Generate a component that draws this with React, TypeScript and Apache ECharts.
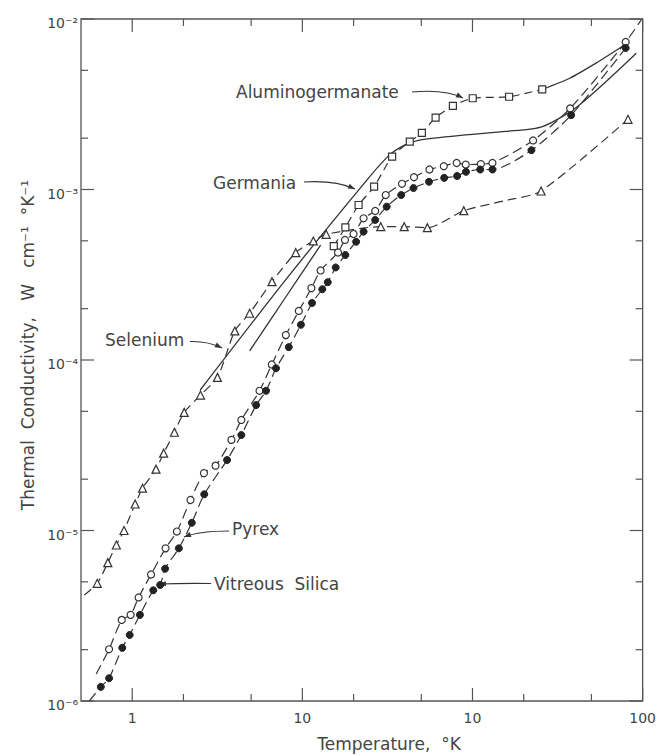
import React, { useEffect, useRef } from 'react';
import * as echarts from 'echarts';

// ---- axis ranges and tick labels ----
const X_MIN = 0.5;
const X_MAX = 1000;
const Y_MIN = 1e-6;
const Y_MAX = 1e-2;
const X_MAJOR = [1, 10, 100, 1000];
const X_MAJOR_LABELS = ['1', '10', '10', '100'];
const X_MINOR = [2, 5, 20, 50, 200, 500];
const Y_MAJOR = [1e-6, 1e-5, 1e-4, 1e-3, 1e-2];
const Y_MAJOR_LABELS = ['10⁻⁶', '10⁻⁵', '10⁻⁴', '10⁻³', '10⁻²'];
const Y_MINOR = [2e-6, 5e-6, 2e-5, 5e-5, 2e-4, 5e-4, 2e-3, 5e-3];

// ---- Selenium (open triangles, dashed) ; M: 1 = plotted point, 0 = curve only ----
const SE_T = [0.523, 0.623, 0.719, 0.807, 0.895, 1.04, 1.15, 1.38, 1.53, 1.77, 2.02, 2.52, 3.17, 4.01, 4.90, 6.63, 9.15, 11.6, 13.8, 28.9, 39.7, 54.3, 88.9, 155, 253, 820];
const SE_K = [4.19e-6, 4.90e-6, 6.48e-6, 8.22e-6, 1.00e-5, 1.43e-5, 1.77e-5, 2.29e-5, 2.84e-5, 3.77e-5, 4.93e-5, 6.23e-5, 7.91e-5, 1.48e-4, 1.88e-4, 2.88e-4, 4.26e-4, 4.99e-4, 5.46e-4, 6.05e-4, 6.05e-4, 5.97e-4, 7.51e-4, 8.60e-4, 9.80e-4, 2.58e-3];
const SE_M = [0, 1, 1, 1, 1, 1, 1, 1, 1, 1, 1, 1, 1, 1, 1, 1, 1, 1, 1, 1, 1, 1, 1, 0, 1, 1];

// ---- Germania (solid curve) ----
const GE_T = [2.51, 8.08, 24.0, 32.2, 39.9, 48.8, 91.6, 157, 258, 418, 918];
const GE_K = [6.67e-5, 3.00e-4, 1.14e-3, 1.58e-3, 1.82e-3, 1.95e-3, 2.09e-3, 2.19e-3, 2.34e-3, 3.09e-3, 6.29e-3];

// ---- Aluminogermanate (open squares, dashed) + solid curve parts ----
const AG_T = [15.3, 17.9, 21.4, 26.4, 33.7, 42.8, 50.4, 60.7, 76.7, 100.3, 164, 257];
const AG_K = [4.66e-4, 6.00e-4, 8.11e-4, 1.04e-3, 1.56e-3, 1.91e-3, 2.15e-3, 2.64e-3, 3.09e-3, 3.43e-3, 3.50e-3, 3.87e-3];
const AG_TAIL_T = [257, 375, 546, 774];
const AG_TAIL_K = [3.87e-3, 4.51e-3, 5.60e-3, 6.99e-3];
const AG_LEAD_T = [4.90, 7.92, 12.8];
const AG_LEAD_K = [1.13e-4, 2.31e-4, 4.72e-4];

// ---- Pyrex (open circles, dashed) ----
const PY_T = [0.614, 0.731, 0.868, 0.979, 1.09, 1.29, 1.57, 1.83, 2.20, 2.64, 3.09, 3.83, 4.38, 5.60, 6.61, 8.00, 9.53, 11.3, 12.8, 16.2, 17.8, 20.0, 22.9, 26.8, 30.9, 38.5, 45.3, 55.8, 67.8, 80.7, 91.3, 112, 131, 227, 375, 795, 985];
const PY_K = [1.44e-6, 2.01e-6, 2.99e-6, 3.20e-6, 4.05e-6, 5.52e-6, 7.86e-6, 9.86e-6, 1.51e-5, 2.17e-5, 2.40e-5, 3.40e-5, 4.45e-5, 6.60e-5, 9.41e-5, 1.40e-4, 1.94e-4, 2.64e-4, 3.35e-4, 4.27e-4, 5.06e-4, 5.48e-4, 6.78e-4, 7.48e-4, 9.28e-4, 1.08e-3, 1.18e-3, 1.31e-3, 1.37e-3, 1.43e-3, 1.40e-3, 1.41e-3, 1.43e-3, 1.94e-3, 2.99e-3, 7.33e-3, 9.93e-3];
const PY_M = [0, 1, 1, 1, 1, 1, 1, 1, 1, 1, 1, 1, 1, 1, 1, 1, 1, 1, 1, 1, 1, 1, 1, 1, 1, 1, 1, 1, 1, 1, 1, 1, 1, 1, 1, 1, 0];

// ---- Vitreous Silica (filled circles, dashed) ----
const SI_T = [0.559, 0.654, 0.731, 0.874, 0.966, 1.11, 1.33, 1.46, 1.56, 1.88, 2.24, 2.65, 3.61, 4.38, 5.35, 6.12, 7.00, 8.32, 9.81, 11.4, 13.1, 14.1, 15.7, 17.9, 20.7, 22.9, 26.8, 31.3, 38.1, 45.0, 55.5, 68.2, 81.2, 91.6, 111, 131, 222, 380, 795];
const SI_K = [1.0e-6, 1.21e-6, 1.36e-6, 2.05e-6, 2.44e-6, 3.20e-6, 4.46e-6, 4.79e-6, 5.97e-6, 7.86e-6, 1.11e-5, 1.63e-5, 2.59e-5, 3.63e-5, 5.44e-5, 6.60e-5, 8.94e-5, 1.19e-4, 1.61e-4, 2.16e-4, 2.60e-4, 2.86e-4, 3.49e-4, 4.13e-4, 4.94e-4, 5.66e-4, 6.63e-4, 7.93e-4, 9.28e-4, 1.02e-3, 1.11e-3, 1.17e-3, 1.20e-3, 1.27e-3, 1.31e-3, 1.31e-3, 1.70e-3, 2.73e-3, 6.76e-3];
const SI_M = [0, 1, 1, 1, 1, 1, 1, 1, 1, 1, 1, 1, 1, 1, 1, 1, 1, 1, 1, 1, 1, 1, 1, 1, 1, 1, 1, 1, 1, 1, 1, 1, 1, 1, 1, 1, 1, 1, 1];

const INK = '#333';
const TEXT = '#444';
const FONT = 'DejaVu Sans';

function pts(T: number[], K: number[], M?: number[]) {
  return T.map((t, i) => (M && !M[i] ? { value: [t, K[i]], symbol: 'none' } : [t, K[i]]));
}

function labelFor(v: number, majors: number[], labels: string[]) {
  const i = majors.findIndex((m) => Math.abs(Math.log10(v) - Math.log10(m)) < 1e-6);
  return i >= 0 ? labels[i] : '';
}

function arrow(from: number[], cp: number[], to: number[]) {
  const a = Math.atan2(to[1] - cp[1], to[0] - cp[0]);
  const len = 7;
  const w = 2.6;
  const bx = to[0] - len * Math.cos(a);
  const by = to[1] - len * Math.sin(a);
  const px = -Math.sin(a) * w;
  const py = Math.cos(a) * w;
  return [
    {
      type: 'bezierCurve',
      shape: { x1: from[0], y1: from[1], cpx1: cp[0], cpy1: cp[1], x2: to[0], y2: to[1] },
      style: { stroke: INK, lineWidth: 1.1, fill: null },
    },
    {
      type: 'polygon',
      shape: { points: [[to[0], to[1]], [bx + px, by + py], [bx - px, by - py]] },
      style: { fill: INK },
    },
  ];
}

function label(text: string, x: number, y: number) {
  return {
    type: 'text',
    x,
    y,
    style: { text, fill: TEXT, fontSize: 17, fontFamily: FONT, align: 'left', verticalAlign: 'middle' },
  };
}

function buildOption() {
  const lineBase = {
    type: 'line',
    smooth: 0.25,
    animation: false,
    emphasis: { disabled: true },
    clip: true,
  };
  const tickData = [
    ...X_MAJOR.map((v) => [v, Y_MIN, 0, 1]),
    ...X_MINOR.map((v) => [v, Y_MIN, 0, 0]),
    ...Y_MAJOR.map((v) => [X_MIN, v, 1, 1]),
    ...Y_MINOR.map((v) => [X_MIN, v, 1, 0]),
  ];

  return {
    animation: false,
    backgroundColor: '#fff',
    textStyle: { fontFamily: FONT },
    grid: { left: 81, top: 19, right: 11, bottom: 55, show: true, borderColor: '#555', borderWidth: 1.3, backgroundColor: 'transparent' },
    xAxis: {
      type: 'log',
      logBase: 10,
      min: X_MIN,
      max: X_MAX,
      axisLine: { show: false },
      axisTick: { show: false },
      splitLine: { show: false },
      axisLabel: {
        customValues: X_MAJOR,
        formatter: (v: number) => labelFor(v, X_MAJOR, X_MAJOR_LABELS),
        fontSize: 14,
        color: TEXT,
        margin: 10,
        fontFamily: FONT,
      },
    },
    yAxis: {
      type: 'log',
      logBase: 10,
      min: Y_MIN,
      max: Y_MAX,
      axisLine: { show: false },
      axisTick: { show: false },
      splitLine: { show: false },
      axisLabel: {
        customValues: Y_MAJOR,
        formatter: (v: number) => labelFor(v, Y_MAJOR, Y_MAJOR_LABELS),
        fontSize: 14,
        color: TEXT,
        margin: 3,
        verticalAlign: 'top',
        lineHeight: 8,
        fontFamily: FONT,
      },
    },
    series: [
      {
        ...lineBase,
        name: 'Selenium',
        data: pts(SE_T, SE_K, SE_M),
        symbol: 'triangle',
        symbolSize: 8,
        itemStyle: { color: '#fff', borderColor: INK, borderWidth: 1.2 },
        lineStyle: { color: INK, width: 1.2, type: [9, 5] },
        z: 3,
      },
      {
        ...lineBase,
        name: 'Germania',
        data: pts(GE_T, GE_K),
        showSymbol: false,
        symbol: 'none',
        lineStyle: { color: INK, width: 1.3 },
        z: 2,
      },
      {
        ...lineBase,
        name: 'Aluminogermanate',
        data: pts(AG_T, AG_K),
        symbol: 'rect',
        symbolSize: 7,
        itemStyle: { color: '#fff', borderColor: INK, borderWidth: 1.2 },
        lineStyle: { color: INK, width: 1.2, type: [8, 5] },
        z: 3,
      },
      {
        ...lineBase,
        name: 'Aluminogermanate curve',
        data: pts(AG_TAIL_T, AG_TAIL_K),
        symbol: 'none',
        lineStyle: { color: INK, width: 1.3 },
        z: 2,
      },
      {
        ...lineBase,
        name: 'Aluminogermanate low-T curve',
        data: pts(AG_LEAD_T, AG_LEAD_K),
        symbol: 'none',
        lineStyle: { color: INK, width: 1.3 },
        z: 2,
      },
      {
        ...lineBase,
        name: 'Pyrex',
        data: pts(PY_T, PY_K, PY_M),
        symbol: 'circle',
        symbolSize: 7,
        itemStyle: { color: '#fff', borderColor: INK, borderWidth: 1.2 },
        lineStyle: { color: INK, width: 1.2, type: [10, 5] },
        z: 4,
      },
      {
        ...lineBase,
        name: 'Vitreous Silica',
        data: pts(SI_T, SI_K, SI_M),
        symbol: 'circle',
        symbolSize: 7,
        itemStyle: { color: '#222', borderColor: '#222', borderWidth: 1 },
        lineStyle: { color: INK, width: 1.2, type: [10, 5] },
        z: 4,
      },
      {
        type: 'custom',
        name: 'ticks',
        coordinateSystem: 'cartesian2d',
        data: tickData,
        encode: { x: 0, y: 1 },
        silent: true,
        clip: false,
        z: 5,
        renderItem: (_params: any, api: any) => {
          const side = api.value(2);
          const major = api.value(3);
          const len = major ? 13 : 7;
          const style = { stroke: '#555', lineWidth: 1.2 };
          if (side === 0) {
            const v = api.value(0);
            const b = api.coord([v, Y_MIN]);
            const t = api.coord([v, Y_MAX]);
            return {
              type: 'group',
              children: [
                { type: 'line', shape: { x1: b[0], y1: b[1], x2: b[0], y2: b[1] - len }, style },
                { type: 'line', shape: { x1: t[0], y1: t[1], x2: t[0], y2: t[1] + len }, style },
              ],
            };
          }
          const v = api.value(1);
          const l = api.coord([X_MIN, v]);
          const r = api.coord([X_MAX, v]);
          return {
            type: 'group',
            children: [
              { type: 'line', shape: { x1: l[0], y1: l[1], x2: l[0] + len, y2: l[1] }, style },
              { type: 'line', shape: { x1: r[0], y1: r[1], x2: r[0] - len, y2: r[1] }, style },
            ],
          };
        },
      },
    ],
    graphic: [
      label('Aluminogermanate', 236, 92),
      ...arrow([412, 92], [445, 89], [463, 98]),
      label('Germania', 213, 183),
      ...arrow([304, 182], [335, 180], [355, 189]),
      label('Selenium', 105, 340),
      ...arrow([190, 341.5], [208, 341], [222, 348]),
      label('Pyrex', 232, 529),
      ...arrow([229, 531], [200, 531], [184, 537]),
      label('Vitreous  Silica', 214, 584),
      ...arrow([211, 583.5], [185, 583], [159, 584]),
      {
        type: 'text',
        x: 389,
        y: 744,
        style: { text: 'Temperature,  °K', fill: TEXT, fontSize: 17, fontFamily: FONT, align: 'center', verticalAlign: 'middle' },
      },
      {
        type: 'text',
        x: 28,
        y: 345,
        rotation: Math.PI / 2,
        style: {
          text: 'Thermal  Conductivity,   W   cm⁻¹  °K⁻¹',
          fill: TEXT,
          fontSize: 17,
          fontFamily: FONT,
          align: 'center',
          verticalAlign: 'middle',
        },
      },
    ],
  };
}

export default function App() {
  const ref = useRef<HTMLDivElement>(null);
  useEffect(() => {
    if (!ref.current) return;
    const chart = echarts.init(ref.current, undefined, { renderer: 'svg' });
    chart.setOption(buildOption() as any);
    return () => chart.dispose();
  }, []);
  return (
    <div
      ref={ref}
      style={{ position: 'fixed', left: 0, top: 0, width: 659, height: 756, background: '#fff' }}
    />
  );
}
